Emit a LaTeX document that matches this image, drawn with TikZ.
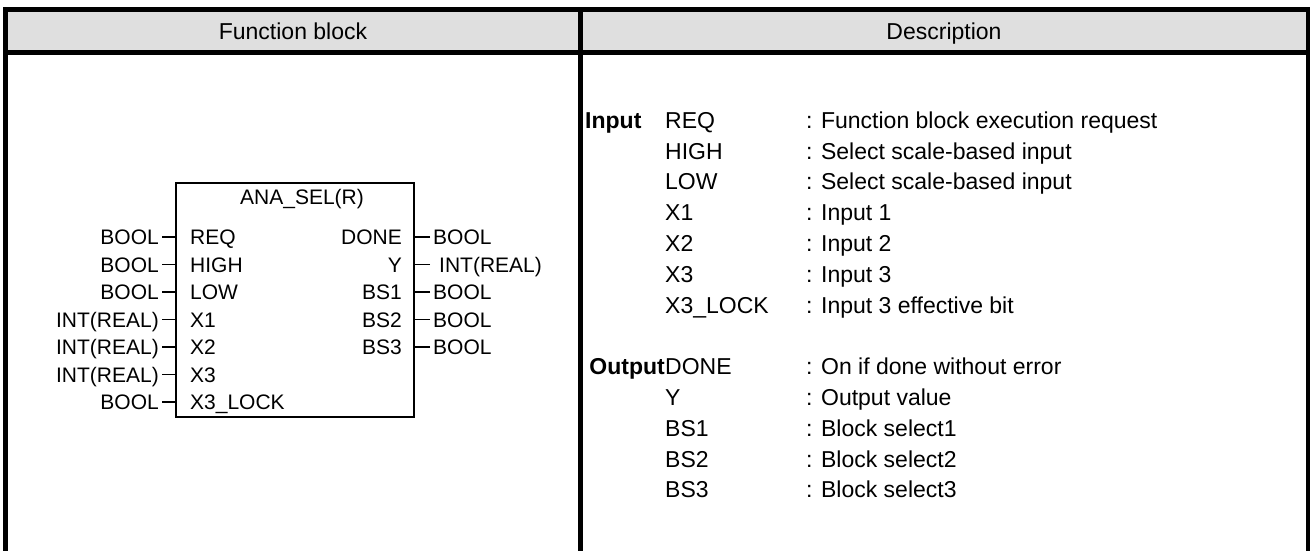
\documentclass[tikz,border=0pt]{standalone}
\usepackage{fontspec}
\setmainfont{Liberation Sans}
\usepackage{tikz}
\usetikzlibrary{positioning}
\definecolor{headGray}{HTML}{DFDFDF}

\begin{document}
\begin{tikzpicture}[x=1pt, y=-1pt,
    rule/.style={line width=5pt},
    headtext/.style={font=\fontsize{23}{26}\selectfont,
      text height=16.5pt, text depth=0pt},
    pintext/.style={font=\fontsize{21}{24}\selectfont, inner sep=3pt,
      text height=15pt, text depth=0pt},
    desctext/.style={font=\fontsize{23}{26}\selectfont, inner sep=0pt,
      text height=16.5pt, text depth=0pt, anchor=west},
    pinline/.style={line width=1.6pt}]
  \useasboundingbox (0,0) rectangle (1310,551);
  % Header band and table rules
  \fill[headGray] (5.5,9.5) rectangle (1308,52.5);
  \draw[rule] (5.5,551) -- (5.5,9.5) -- (1308,9.5) -- (1308,551);
  \draw[rule] (5.5,52.5) -- (1308,52.5);
  \draw[rule] (580,9.5) -- (580,551);
  % Header labels
  \node[headtext] (headFB) at (293,31.5) {Function block};
  \node[headtext] (headDesc) at (944,31.5) {Description};
  % Function block body
  \node[draw, line width=1.2pt, minimum width=238pt, minimum height=234pt,
    inner sep=0pt] (fb) at (295,300) {};
  \node[pintext] (fbName) at (302,197) {ANA\_SEL(R)};
  % Inputs
  \foreach \i/\pin/\typ in {0/REQ/BOOL, 1/HIGH/BOOL, 2/LOW/BOOL,
      3/X1/INT(REAL), 4/X2/INT(REAL), 5/X3/INT(REAL),
      6/X3\_LOCK/{BOOL\hspace{-4pt}}} {
    \node[pintext, anchor=west] (pin\i) at (187,{237+27.5*\i}) {\pin};
    \node[pintext, anchor=east] (typ\i) at (162,{237+27.5*\i}) {\typ};
    \draw[pinline] (typ\i.east) -- (typ\i.east -| fb.west);
  }
  % Outputs
  \foreach \i/\pin/\typ in {0/DONE/BOOL, 1/Y/{\hspace{6pt}INT(REAL)},
      2/BS1/BOOL, 3/BS2/BOOL, 4/BS3/BOOL} {
    \node[pintext, anchor=east] (out\i) at (405,{237+27.5*\i}) {\pin};
    \node[pintext, anchor=west] (otyp\i) at (430,{237+27.5*\i}) {\typ};
    \draw[pinline] (otyp\i.west) -- (otyp\i.west -| fb.east);
  }
  % Description column
  \node[desctext, font=\fontsize{23}{26}\selectfont\bfseries] (inHead)
    at (585,120) {Input};
  \foreach \i/\pin/\txt in {0/REQ/Function block execution request,
      1/HIGH/Select scale-based input, 2/LOW/Select scale-based input,
      3/X1/Input 1, 4/X2/Input 2, 5/X3/Input 3,
      6/X3\_LOCK/Input 3 effective bit,
      8/DONE/On if done without error, 9/Y/Output value,
      10/BS1/Block select1, 11/BS2/Block select2, 12/BS3/Block select3} {
    \node[desctext] (dpin\i) at (665,{120+30.8*\i}) {\pin};
    \node[desctext] (dtxt\i) at (806,{120+30.8*\i}) {: \txt};
  }
  \node[desctext, anchor=east, font=\fontsize{23}{26}\selectfont\bfseries]
    (outHead) at (dpin8.west) {Output};
\end{tikzpicture}
\end{document}
